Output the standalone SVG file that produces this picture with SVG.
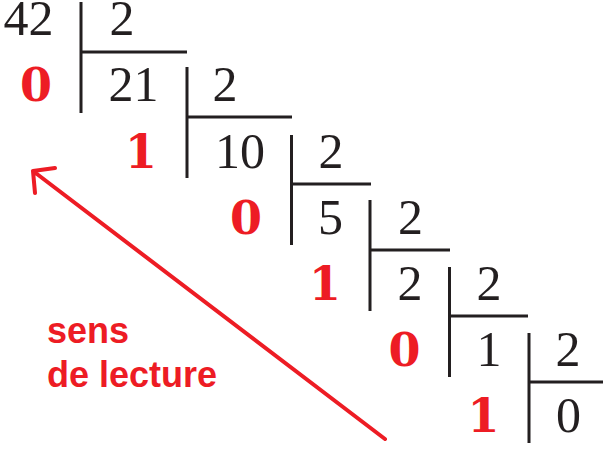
<svg xmlns="http://www.w3.org/2000/svg" width="603" height="455" viewBox="0 0 603 455">
<style>
.n{font-family:"Liberation Serif","Times New Roman",serif;font-size:50px;fill:#231f20;text-anchor:middle}
.r{font-family:"DejaVu Serif",serif;font-weight:bold;font-size:46px;fill:#ed1c24;text-anchor:middle}
.l{stroke:#231f20;stroke-width:3;fill:none}
.lab{font-family:"Liberation Sans",Arial,sans-serif;font-weight:bold;font-size:36px;fill:#ed1c24}
</style>
<rect width="603" height="455" fill="#fff"/>
<g id="step1">
<text class="n" x="28.5" y="35">42</text>
<text class="n" x="122" y="35">2</text>
<path class="l" d="M81 2V113M81 52H187"/>
<text class="r" x="36" y="101">0</text>
</g>
<g id="step2">
<text class="n" x="133.5" y="101">21</text>
<text class="n" x="225" y="101">2</text>
<path class="l" d="M187 67V178M187 117H292"/>
<text class="r" x="141" y="167.5">1</text>
</g>
<g id="step3">
<text class="n" x="240" y="167.5">10</text>
<text class="n" x="331" y="167.5">2</text>
<path class="l" d="M291.5 135V245M291.5 184H371"/>
<text class="r" x="246" y="233.6">0</text>
</g>
<g id="step4">
<text class="n" x="330.5" y="233.6">5</text>
<text class="n" x="410.5" y="233.6">2</text>
<path class="l" d="M370 200V311M370 250H450"/>
<text class="r" x="325" y="299.8">1</text>
</g>
<g id="step5">
<text class="n" x="410" y="299.8">2</text>
<text class="n" x="489" y="299.8">2</text>
<path class="l" d="M449.5 267V377M449.5 316H528"/>
<text class="r" x="404.5" y="366">0</text>
</g>
<g id="step6">
<text class="n" x="489" y="366">1</text>
<text class="n" x="568" y="366">2</text>
<path class="l" d="M529 333V443M529 382H603"/>
<text class="r" x="483.5" y="432">1</text>
<text class="n" x="568.5" y="432">0</text>
</g>
<g id="connectors">
<path d="M385 439L33 171M55 168L33 171L35 193" stroke="#ed1c24" stroke-width="4" fill="none" stroke-linecap="round" stroke-linejoin="round"/>
</g>
<g id="label">
<text class="lab" x="47" y="343">sens</text>
<text class="lab" x="47" y="387">de lecture</text>
</g>
</svg>
